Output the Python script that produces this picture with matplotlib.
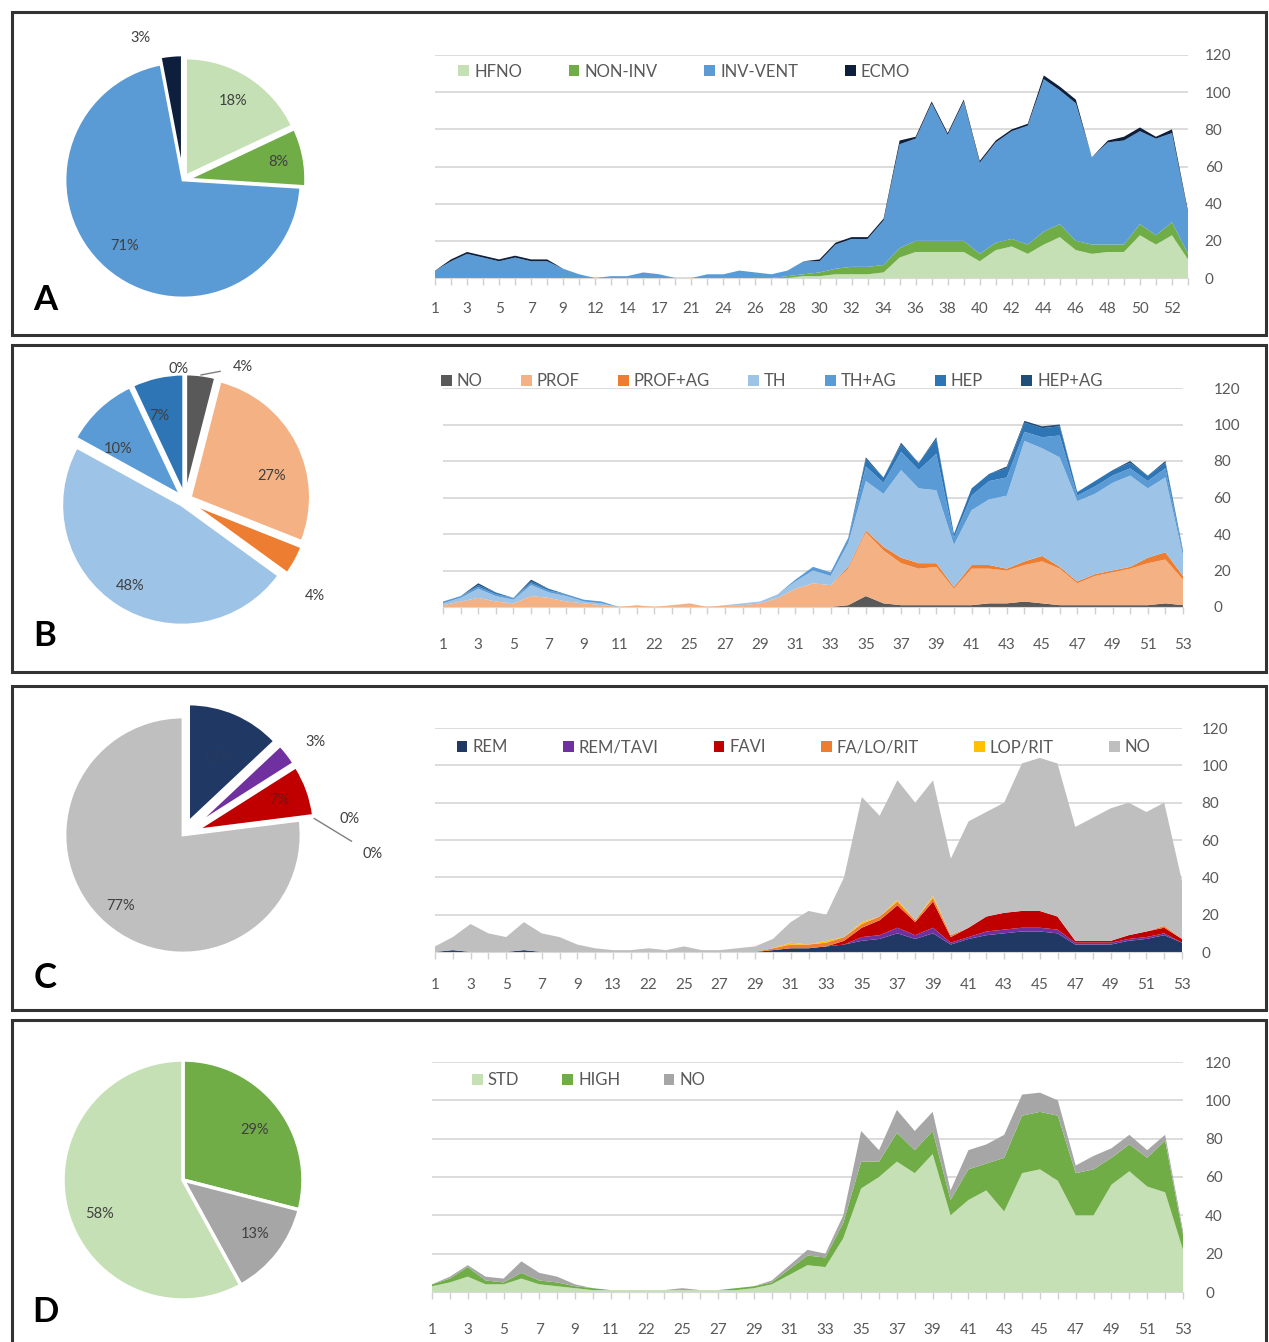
import numpy as np
import matplotlib
matplotlib.use("Agg")
import matplotlib.pyplot as plt
from matplotlib.patches import Rectangle

plt.rcParams["font.family"] = ["Lato", "DejaVu Sans"]

W, H = 1269, 1342

# ---------------- data ----------------
# panel A: respiratory support
weeks_a = [1, 2, 3, 4, 5, 6, 7, 8, 9, 11, 12, 13, 14, 16, 17, 19, 21, 23, 24, 25,
           26, 27, 28, 29, 30, 31, 32, 33, 34, 35, 36, 37, 38, 39, 40, 41, 42, 43,
           44, 45, 46, 47, 48, 49, 50, 51, 52, 53]
hfno = [0, 0, 0, 0, 0, 0, 0, 0, 0, 0, 0, 0, 0, 0, 0, 0, 0, 0, 0, 0,
        0, 0, 0, 1, 1, 2, 2, 2, 3, 11, 14, 14, 14, 14, 9, 15, 17, 13,
        18, 22, 15, 13, 14, 14, 23, 18, 23, 10]
non_inv = [0, 0, 0, 0, 0, 0, 0, 0, 0, 0, 0, 0, 0, 0, 0, 0, 0, 0, 0, 0,
           0, 0, 1, 1, 2, 3, 4, 4, 4, 5, 6, 6, 6, 6, 4, 4, 4, 5,
           7, 7, 5, 5, 4, 4, 6, 5, 7, 3]
inv_vent = [4, 9, 13, 11, 9, 11, 9, 9, 5, 2, 0, 1, 1, 3, 2, 0, 0, 2, 2, 4,
            3, 2, 3, 7, 6, 13, 15, 15, 24, 56, 55, 74, 57, 75, 49, 54, 58, 64,
            82, 72, 74, 47, 55, 56, 50, 52, 48, 22]
ecmo = [0, 1, 1, 1, 1, 1, 1, 1, 0, 0, 0, 0, 0, 0, 0, 0, 0, 0, 0, 0,
        0, 0, 0, 0, 1, 1, 1, 1, 1, 2, 1, 1, 1, 1, 1, 1, 1, 1,
        2, 2, 2, 0, 1, 2, 2, 1, 2, 1]
pie_a = [18, 8, 71, 3]  # HFNO, NON-INV, INV-VENT, ECMO

# panel B: anticoagulation
weeks_b = [1, 2, 3, 4, 5, 6, 7, 8, 9, 10, 11, 21, 22, 23, 25, 26, 27, 28, 29, 30,
           31, 32, 33, 34, 35, 36, 37, 38, 39, 40, 41, 42, 43, 44, 45, 46, 47, 48,
           49, 50, 51, 52, 53]
b_no = [0, 0, 0, 0, 0, 0, 0, 0, 0, 0, 0, 0, 0, 0, 0, 0, 0, 0, 0, 0,
        0, 0, 0, 1, 6, 2, 1, 1, 1, 1, 1, 2, 2, 3, 2, 1, 1, 1,
        1, 1, 1, 2, 1]
b_prof = [1, 3, 5, 3, 2, 6, 5, 3, 2, 1, 0, 1, 0, 1, 2, 0, 1, 1, 2, 5,
          10, 13, 12, 20, 35, 29, 23, 20, 21, 9, 20, 19, 18, 20, 23, 20, 12, 16,
          18, 20, 23, 24, 14]
b_prof_ag = [0, 0, 0, 0, 0, 0, 0, 0, 0, 0, 0, 0, 0, 0, 0, 0, 0, 0, 0, 0,
             0, 0, 0, 1, 1, 2, 3, 3, 2, 1, 2, 2, 1, 2, 3, 1, 1, 1,
             1, 1, 3, 4, 2]
b_th = [1, 2, 5, 3, 2, 6, 3, 3, 1, 1, 0, 0, 0, 0, 0, 0, 0, 1, 1, 2,
        4, 7, 5, 13, 27, 29, 48, 41, 40, 23, 30, 36, 40, 66, 59, 60, 44, 44,
        48, 50, 38, 41, 11]
b_th_ag = [1, 1, 1, 1, 1, 1, 1, 1, 1, 1, 0, 0, 0, 0, 0, 0, 0, 0, 0, 0,
           1, 2, 2, 3, 8, 6, 10, 10, 20, 4, 8, 10, 10, 5, 6, 12, 3, 4,
           4, 4, 4, 5, 2]
b_hep = [0, 0, 1, 1, 0, 1, 1, 0, 0, 0, 0, 0, 0, 0, 0, 0, 0, 0, 0, 0,
         0, 0, 0, 0, 4, 3, 4, 4, 8, 2, 4, 4, 5, 5, 5, 5, 2, 3,
         3, 3, 3, 3, 1]
b_hep_ag = [0, 0, 1, 0, 0, 1, 0, 0, 0, 0, 0, 0, 0, 0, 0, 0, 0, 0, 0, 0,
            0, 0, 0, 0, 1, 0, 1, 0, 1, 0, 0, 0, 1, 1, 1, 1, 0, 0,
            0, 1, 0, 1, 0]
pie_b = [4, 27, 4, 48, 10, 7, 0]

# panel C: antivirals
weeks_c = [1, 2, 3, 4, 5, 6, 7, 8, 9, 11, 13, 21, 22, 24, 25, 26, 27, 28, 29, 30,
           31, 32, 33, 34, 35, 36, 37, 38, 39, 40, 41, 42, 43, 44, 45, 46, 47, 48,
           49, 50, 51, 52, 53]
c_rem = [0, 1, 0, 0, 0, 1, 0, 0, 0, 0, 0, 0, 0, 0, 0, 0, 0, 0, 0, 1,
         2, 2, 3, 4, 6, 7, 10, 7, 10, 4, 7, 9, 10, 11, 11, 10, 4, 4,
         4, 6, 7, 9, 5]
c_rem_tavi = [0, 0, 0, 0, 0, 0, 0, 0, 0, 0, 0, 0, 0, 0, 0, 0, 0, 0, 0, 0,
              0, 0, 0, 0, 2, 2, 3, 2, 3, 1, 1, 2, 2, 2, 2, 2, 1, 1,
              1, 1, 1, 1, 0]
c_favi = [0, 0, 0, 0, 0, 0, 0, 0, 0, 0, 0, 0, 0, 0, 0, 0, 0, 0, 0, 0,
          0, 0, 0, 2, 5, 8, 12, 7, 14, 3, 5, 8, 9, 9, 9, 7, 1, 1,
          1, 2, 3, 3, 2]
c_fa_lo_rit = [0, 0, 0, 0, 0, 0, 0, 0, 0, 0, 0, 0, 0, 0, 0, 0, 0, 0, 0, 1,
               2, 2, 2, 2, 2, 2, 2, 1, 2, 1, 0, 0, 0, 0, 0, 0, 0, 0,
               0, 0, 0, 1, 0]
c_lop_rit = [0, 0, 0, 0, 0, 0, 0, 0, 0, 0, 0, 0, 0, 0, 0, 0, 0, 0, 0, 0,
             1, 0, 1, 0, 1, 0, 1, 0, 1, 0, 0, 0, 0, 0, 0, 0, 0, 0,
             0, 0, 0, 0, 0]
c_no = [3, 7, 15, 10, 8, 15, 10, 8, 4, 2, 1, 1, 2, 1, 3, 1, 1, 2, 3, 5,
        11, 18, 14, 32, 67, 54, 64, 63, 62, 41, 57, 56, 59, 79, 82, 82, 61, 66,
        71, 71, 64, 66, 31]
pie_c = [13, 3, 7, 0, 0, 77]

# panel D: corticosteroids
weeks_d = weeks_b
d_std = [3, 5, 8, 4, 4, 7, 4, 3, 2, 1, 1, 1, 1, 1, 1, 1, 1, 1, 2, 4,
         9, 14, 13, 28, 54, 60, 68, 62, 72, 40, 48, 53, 42, 62, 64, 58, 40, 40,
         56, 63, 55, 52, 22]
d_high = [1, 2, 5, 2, 1, 3, 2, 2, 1, 1, 0, 0, 0, 0, 0, 0, 0, 1, 1, 1,
          3, 5, 5, 8, 14, 8, 15, 12, 12, 8, 16, 14, 28, 30, 30, 34, 22, 24,
          14, 14, 15, 27, 8]
d_no = [0, 1, 1, 2, 2, 6, 4, 3, 1, 0, 0, 0, 0, 0, 1, 0, 0, 0, 0, 1,
        2, 3, 2, 4, 16, 6, 12, 10, 10, 5, 10, 10, 12, 11, 10, 8, 4, 7,
        5, 5, 4, 3, 2]
pie_d = [29, 13, 58]  # HIGH, NO, STD (clockwise from 12 o'clock)

# ---------------- figure ----------------
fig = plt.figure(figsize=(W / 100, H / 100), dpi=100)
fig.patch.set_facecolor("white")

TXT = "#595959"


def px_axes(x0, y0, x1, y1):
    return fig.add_axes([x0 / W, 1 - y1 / H, (x1 - x0) / W, (y1 - y0) / H])


def area_chart(box, weeks, layers, colors, names, leg_anchor, ypad, xpad, colsp=2.4):
    ax = px_axes(*box)
    x = np.arange(len(weeks))
    ax.stackplot(x, *layers, colors=colors, labels=names, lw=0)
    ax.set_xlim(0, len(weeks) - 1)
    ax.set_ylim(0, 120)
    ax.set_yticks(range(0, 121, 20))
    ax.yaxis.tick_right()
    ax.grid(axis="y", color="#d9d9d9", lw=1.3)
    ax.set_axisbelow(True)
    for s in ["top", "left", "right"]:
        ax.spines[s].set_visible(False)
    ax.spines["bottom"].set_color("#d9d9d9")
    ax.set_xticks(x)
    ax.set_xticklabels([str(w) if i % 2 == 0 else "" for i, w in enumerate(weeks)])
    ax.tick_params(axis="x", colors="#d0d0d0", length=5, width=1, pad=xpad,
                   labelcolor=TXT, labelsize=11)
    ax.tick_params(axis="y", length=0, pad=ypad, labelcolor=TXT, labelsize=11)
    leg = ax.legend(loc="center left", bbox_to_anchor=leg_anchor,
                    ncol=len(names), frameon=False, fontsize=12,
                    handlelength=0.65, handleheight=0.65, handletextpad=0.3,
                    columnspacing=colsp, borderaxespad=0)
    for t in leg.get_texts():
        t.set_color(TXT)
    return ax


def pie_chart(center, r, vals, colors, explode, rfs, dangs, lw=2.0,
              leaders=(), txtcolors=None):
    cx, cy = center
    L = 1.6
    ax = px_axes(cx - L * r, cy - L * r, cx + L * r, cy + L * r)
    wedges, _ = ax.pie(vals, colors=colors, explode=explode, startangle=90,
                       counterclock=False, radius=1,
                       wedgeprops=dict(edgecolor="white", linewidth=lw))
    ax.set_xlim(-L, L)
    ax.set_ylim(-L, L)
    ax.set_aspect("equal")
    ax.axis("off")
    for i, (w, v) in enumerate(zip(wedges, vals)):
        ang = np.deg2rad((w.theta1 + w.theta2) / 2 + dangs[i])
        ox, oy = w.center
        tx, ty = ox + rfs[i] * np.cos(ang), oy + rfs[i] * np.sin(ang)
        col = txtcolors[i] if txtcolors else "#404040"
        if i in leaders:
            a0 = np.deg2rad((w.theta1 + w.theta2) / 2)
            ax.annotate(f"{v}%", xy=(ox + 1.0 * np.cos(a0), oy + 1.0 * np.sin(a0)),
                        xytext=(tx, ty), ha="center", va="center", fontsize=10.5,
                        color=col, arrowprops=dict(arrowstyle="-", color="#7f7f7f",
                                                   lw=1, shrinkA=7, shrinkB=0))
        else:
            ax.text(tx, ty, f"{v}%", ha="center", va="center", fontsize=10.5,
                    color=col)
    return ax


# panel frames
for (y0, y1) in [(12, 335), (345, 672), (686, 1010), (1020, 1345)]:
    fig.patches.append(Rectangle((12 / W, 1 - y1 / H), (1266 - 12) / W, (y1 - y0) / H,
                                 transform=fig.transFigure, fill=False,
                                 edgecolor="#333333", lw=2.2))

# ---- A ----
col_a = ["#c5e0b4", "#70ad47", "#5b9bd5", "#0d1f3c"]
area_chart((435, 55, 1188, 278), weeks_a, [hfno, non_inv, inv_vent, ecmo], col_a,
           ["HFNO", "NON-INV", "INV-VENT", "ECMO"], (0.022, 0.925), 12, 12, 2.8)
pie_chart((183, 180), 118, pie_a, col_a, [0.04, 0.04, 0.0, 0.06],
          [0.75, 0.78, 0.75, 1.2], [0, 0, 0, 12])

# ---- B ----
col_b = ["#595959", "#f4b183", "#ed7d31", "#9dc3e6", "#5b9bd5", "#2e75b6", "#1f4e79"]
area_chart((443, 388, 1183, 607), weeks_b,
           [b_no, b_prof, b_prof_ag, b_th, b_th_ag, b_hep, b_hep_ag], col_b,
           ["NO", "PROF", "PROF+AG", "TH", "TH+AG", "HEP", "HEP+AG"],
           (-0.012, 1.03), 22, 17, 2.3)
pie_chart((185, 500), 120, pie_b, col_b, [0.05] * 7,
          [1.16, 0.7, 1.3, 0.8, 0.65, 0.68, 1.04], [-17, -12, -8, 0, 10, 5, 3],
          leaders=(0,))

# ---- C ----
col_c = ["#1f3864", "#7030a0", "#c00000", "#ed7d31", "#ffc000", "#bfbfbf"]
area_chart((435, 728, 1182, 952), weeks_c,
           [c_rem, c_rem_tavi, c_favi, c_fa_lo_rit, c_lop_rit, c_no], col_c,
           ["REM", "REM/TAVI", "FAVI", "FA/LO/RIT", "LOP/RIT", "NO"],
           (0.02, 0.915), 14, 14, 3.3)
pie_chart((183, 835), 118, pie_c, col_c, [0.12, 0.12, 0.12, 0.12, 0.12, 0.0],
          [0.6, 1.25, 0.75, 1.3, 1.5, 0.8], [0, -3, 0, -2, -14, 0],
          leaders=(4,), txtcolors=["#2a3a5a", "#404040", "#7a1010", "#404040",
                                   "#404040", "#404040"])

# ---- D ----
col_d = ["#c5e0b4", "#70ad47", "#a6a6a6"]
area_chart((432, 1062, 1183, 1292), weeks_d, [d_std, d_high, d_no], col_d,
           ["STD", "HIGH", "NO"], (0.044, 0.92), 16, 17, 2.6)
pie_chart((183, 1180), 120, pie_d, ["#70ad47", "#a6a6a6", "#c5e0b4"], [0, 0, 0],
          [0.73, 0.75, 0.75], [-3, 1, 8], lw=2.5)

# panel letters
for letter, y in [("A", 300), ("B", 636), ("C", 978), ("D", 1312)]:
    fig.text(45 / W, 1 - y / H, letter, fontsize=25, fontweight="bold",
             ha="center", va="center", color="black")

fig.savefig("out.png", dpi=100)
